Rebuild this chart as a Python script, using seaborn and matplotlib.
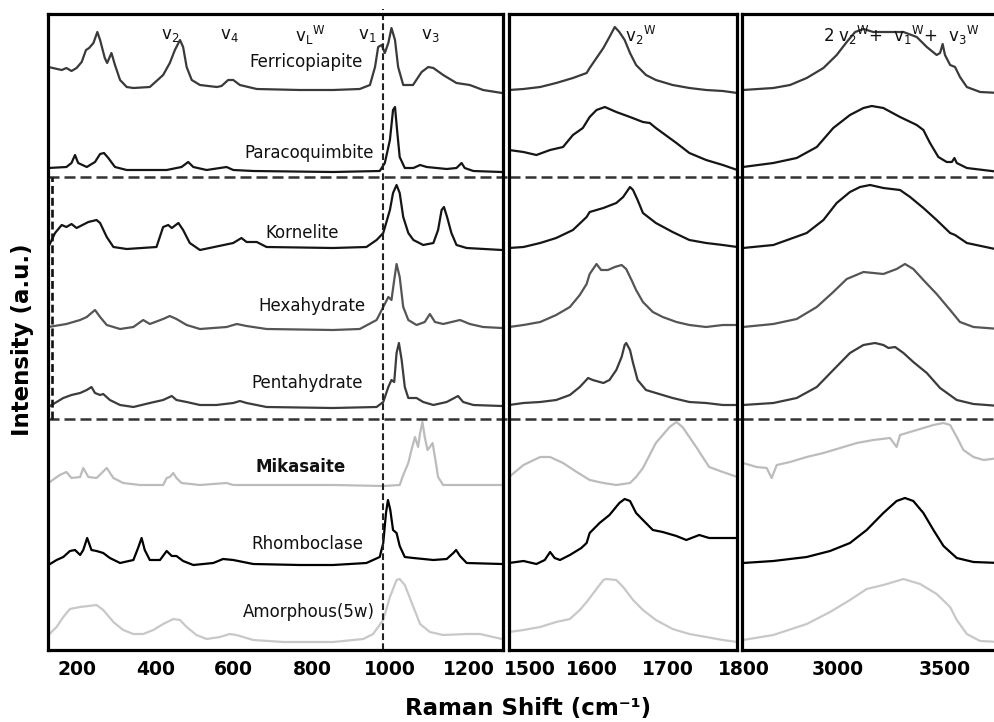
import matplotlib
matplotlib.use("Agg")
import matplotlib.pyplot as plt
import matplotlib.transforms as mtransforms
import pandas as pd
import seaborn as sns

# spettri: (Raman shift cm-1, intensita' relativa alla linea di base)
# regione 150-1300 cm-1
ferri_low = [(145, 23), (179, 20), (191, 22), (204, 19), (217, 22), (230, 28), (241, 40), (249, 42), (260, 47), (270, 58), (277, 50), (289, 32), (295, 27), (306, 37), (315, 25), (328, 10), (345, 3), (362, 2), (404, 3), (438, 15), (455, 27), (468, 40), (481, 50), (489, 43), (498, 23), (511, 10), (532, 5), (575, 3), (587, 4), (604, 10), (617, 10), (634, 5), (677, 1), (787, 0), (872, 0), (940, 1), (966, 5), (979, 23), (987, 43), (996, 45), (1004, 37), (1013, 47), (1021, 62), (1030, 50), (1038, 23), (1051, 5), (1076, 5), (1098, 18), (1115, 23), (1128, 22), (1153, 15), (1187, 7), (1221, 5), (1255, 0), (1303, -3)]
para_low = [(145, 2), (191, 3), (204, 7), (213, 15), (221, 7), (243, 3), (264, 8), (277, 16), (287, 17), (298, 12), (315, 3), (345, 0), (447, 0), (485, 3), (502, 8), (515, 3), (549, 0), (600, 3), (617, 0), (668, -1), (872, -2), (991, -1), (1004, 7), (1017, 30), (1025, 60), (1030, 63), (1036, 37), (1042, 13), (1055, 2), (1077, 2), (1094, 5), (1111, 3), (1162, 1), (1187, 2), (1200, 7), (1208, 2), (1230, -1), (1303, -2)]
korn_low = [(145, 1), (162, 15), (179, 23), (191, 21), (204, 24), (217, 20), (247, 26), (268, 28), (277, 25), (294, 11), (311, 1), (345, -1), (421, 1), (438, 21), (451, 23), (460, 20), (477, 25), (489, 18), (506, 5), (532, -2), (617, 5), (638, 10), (651, 6), (677, 6), (702, 1), (872, 0), (957, 1), (983, 8), (1000, 15), (1017, 38), (1025, 55), (1034, 63), (1042, 55), (1051, 31), (1064, 15), (1077, 8), (1102, 3), (1128, 5), (1140, 18), (1149, 38), (1155, 41), (1163, 31), (1174, 15), (1187, 3), (1213, 0), (1303, -2)]
hexa_low = [(145, 0), (191, 3), (226, 7), (243, 10), (264, 17), (277, 10), (294, 2), (328, -2), (362, 0), (387, 7), (404, 3), (438, 8), (455, 11), (472, 8), (498, 2), (532, -2), (600, 0), (626, 3), (651, 1), (702, -2), (872, -3), (940, -2), (983, 7), (1000, 20), (1013, 30), (1021, 27), (1028, 47), (1034, 63), (1042, 50), (1051, 20), (1064, 7), (1085, 2), (1106, 5), (1119, 13), (1132, 5), (1153, 3), (1196, 7), (1221, 3), (1255, 0), (1303, -1)]
penta_low = [(145, -2), (166, 3), (183, 7), (204, 10), (226, 12), (243, 15), (255, 18), (264, 12), (277, 10), (285, 11), (302, 5), (328, 0), (362, -2), (404, 2), (438, 5), (460, 9), (472, 5), (498, 3), (532, 0), (574, 0), (617, 2), (634, 4), (651, 2), (702, -2), (872, -3), (983, -2), (1000, 3), (1013, 18), (1021, 25), (1028, 23), (1034, 52), (1040, 62), (1047, 45), (1055, 18), (1064, 7), (1085, 7), (1102, 3), (1128, 0), (1162, 3), (1191, 9), (1204, 3), (1230, 0), (1303, -1)]
mika_low = [(145, 2), (174, 10), (191, 13), (204, 7), (226, 8), (234, 17), (247, 8), (268, 7), (294, 17), (311, 7), (336, 2), (379, 0), (438, 0), (447, 7), (455, 8), (464, 12), (472, 7), (485, 2), (532, 0), (600, 2), (617, 0), (702, 0), (872, 0), (1000, -1), (1042, 0), (1051, 10), (1064, 22), (1072, 35), (1081, 48), (1089, 38), (1094, 52), (1100, 63), (1106, 48), (1113, 35), (1119, 38), (1126, 42), (1132, 28), (1140, 8), (1153, 0), (1303, 0)]
rhombo_low = [(145, -2), (166, 3), (183, 6), (200, 12), (213, 13), (226, 8), (234, 13), (244, 25), (255, 13), (268, 12), (285, 10), (302, 5), (328, 0), (362, 3), (374, 15), (383, 25), (391, 13), (404, 3), (430, 3), (447, 12), (460, 7), (472, 7), (489, 2), (515, -2), (566, 0), (591, 4), (617, 3), (668, -1), (787, -2), (872, -2), (957, 0), (991, 6), (1000, 20), (1007, 50), (1012, 63), (1018, 53), (1025, 33), (1034, 30), (1042, 17), (1055, 6), (1077, 5), (1128, 3), (1162, 4), (1179, 10), (1186, 13), (1196, 7), (1213, 0), (1303, -1)]
amorph_low = [(145, 7), (166, 15), (183, 25), (200, 33), (226, 35), (268, 37), (285, 32), (311, 20), (336, 12), (362, 8), (387, 8), (413, 12), (438, 18), (464, 23), (481, 22), (498, 15), (523, 7), (549, 3), (583, 5), (608, 8), (625, 7), (668, 2), (745, 0), (872, 0), (949, 3), (974, 8), (1000, 22), (1017, 45), (1034, 62), (1042, 63), (1055, 57), (1077, 35), (1094, 18), (1119, 10), (1153, 7), (1213, 8), (1247, 8), (1303, 3)]

# regione 1500-1800 cm-1
ferri_mid = [(1500, 0), (1519, 1), (1541, 3), (1562, 7), (1584, 12), (1602, 17), (1606, 22), (1615, 32), (1624, 42), (1632, 53), (1639, 63), (1645, 58), (1652, 50), (1659, 37), (1667, 25), (1680, 15), (1693, 10), (1715, 5), (1737, 2), (1759, 0), (1781, -1), (1800, -3)]
para_mid = [(1500, 20), (1519, 18), (1536, 15), (1554, 20), (1571, 23), (1584, 35), (1597, 42), (1606, 53), (1615, 60), (1626, 63), (1641, 58), (1659, 53), (1676, 48), (1685, 47), (1693, 42), (1702, 37), (1720, 27), (1737, 17), (1759, 10), (1781, 5), (1800, 0)]
korn_mid = [(1500, 0), (1519, 1), (1541, 5), (1562, 10), (1584, 18), (1602, 31), (1606, 36), (1624, 40), (1641, 45), (1650, 51), (1659, 61), (1663, 58), (1669, 48), (1676, 35), (1693, 25), (1715, 16), (1737, 8), (1759, 5), (1781, 3), (1800, 1)]
hexa_mid = [(1500, 0), (1519, 2), (1541, 5), (1562, 12), (1580, 20), (1593, 32), (1602, 43), (1606, 53), (1615, 63), (1621, 57), (1630, 57), (1639, 60), (1648, 62), (1654, 58), (1661, 47), (1667, 37), (1676, 25), (1689, 15), (1702, 10), (1720, 5), (1737, 2), (1759, 0), (1781, 2), (1800, 2)]
penta_mid = [(1500, 0), (1519, 2), (1541, 3), (1562, 5), (1580, 10), (1593, 18), (1604, 27), (1610, 25), (1624, 22), (1632, 25), (1641, 35), (1648, 48), (1652, 60), (1654, 62), (1659, 55), (1663, 42), (1669, 25), (1680, 15), (1693, 12), (1715, 7), (1737, 3), (1759, 2), (1781, 0), (1800, 0)]
mika_mid = [(1500, 8), (1519, 20), (1541, 28), (1554, 28), (1571, 22), (1589, 13), (1606, 5), (1624, 2), (1641, 0), (1659, 2), (1667, 8), (1676, 17), (1693, 42), (1711, 58), (1720, 63), (1728, 58), (1746, 38), (1763, 18), (1781, 13), (1800, 8)]
rhombo_mid = [(1500, 0), (1519, 2), (1536, -1), (1547, 3), (1554, 11), (1560, 5), (1567, 3), (1580, 8), (1595, 15), (1602, 20), (1606, 30), (1619, 40), (1632, 48), (1645, 60), (1652, 64), (1659, 62), (1667, 50), (1676, 43), (1689, 33), (1702, 31), (1720, 27), (1733, 23), (1750, 28), (1763, 25), (1781, 25), (1800, 25)]
amorph_mid = [(1500, 10), (1519, 12), (1541, 15), (1562, 20), (1580, 23), (1593, 32), (1602, 40), (1610, 48), (1624, 62), (1628, 63), (1641, 62), (1650, 55), (1663, 42), (1676, 32), (1693, 22), (1715, 13), (1737, 8), (1759, 5), (1781, 2), (1800, 0)]

# regione 2600-3800 cm-1
ferri_high = [(2590, 0), (2732, 2), (2810, 5), (2888, 12), (2966, 22), (3028, 35), (3075, 48), (3114, 58), (3153, 61), (3199, 58), (3277, 58), (3340, 58), (3402, 53), (3449, 43), (3495, 35), (3511, 37), (3523, 46), (3534, 35), (3558, 25), (3581, 23), (3604, 13), (3636, 3), (3698, -2), (3790, -3)]
para_high = [(2590, 3), (2732, 7), (2841, 12), (2935, 23), (3012, 42), (3090, 55), (3153, 62), (3192, 64), (3246, 62), (3324, 53), (3402, 45), (3433, 40), (3464, 27), (3503, 13), (3542, 8), (3566, 8), (3578, 12), (3589, 7), (3636, 2), (3790, -2)]
korn_high = [(2590, 0), (2732, 3), (2888, 15), (2966, 28), (3028, 45), (3090, 56), (3137, 61), (3184, 63), (3246, 60), (3324, 58), (3371, 51), (3433, 40), (3495, 28), (3558, 15), (3581, 13), (3636, 5), (3790, -2)]
hexa_high = [(2590, 0), (2732, 3), (2841, 8), (2935, 20), (3012, 35), (3075, 48), (3153, 55), (3246, 53), (3308, 58), (3347, 63), (3386, 58), (3433, 47), (3495, 33), (3558, 17), (3604, 5), (3667, 0), (3790, -2)]
penta_high = [(2590, 0), (2732, 2), (2841, 7), (2935, 18), (3012, 35), (3090, 52), (3153, 60), (3207, 62), (3246, 60), (3270, 57), (3301, 58), (3340, 52), (3386, 43), (3449, 32), (3511, 17), (3589, 5), (3667, 1), (3790, -1)]
mika_high = [(2590, 22), (2654, 18), (2701, 17), (2724, 7), (2748, 20), (2810, 23), (2888, 28), (2966, 32), (3044, 37), (3122, 42), (3199, 45), (3277, 47), (3308, 38), (3324, 50), (3402, 55), (3480, 60), (3527, 62), (3558, 60), (3589, 48), (3620, 35), (3667, 28), (3714, 25), (3790, 27)]
rhombo_high = [(2590, 0), (2732, 2), (2888, 6), (2997, 12), (3090, 20), (3168, 33), (3246, 50), (3308, 62), (3347, 65), (3386, 62), (3433, 50), (3480, 33), (3527, 17), (3589, 5), (3667, 1), (3790, 0)]
amorph_high = [(2590, 2), (2732, 7), (2888, 18), (2997, 30), (3090, 42), (3168, 53), (3246, 57), (3340, 63), (3418, 58), (3495, 48), (3558, 35), (3589, 22), (3636, 8), (3698, 1), (3790, 0)]

campioni = ["Ferricopiapite", "Paracoquimbite", "Kornelite", "Hexahydrate",
            "Pentahydrate", "Mikasaite", "Rhomboclase", "Amorphous(5w)"]
offset = [560, 480, 402, 323, 245, 165, 87, 8]
colori = ["#3a3a3a", "#151515", "#151515", "#555555", "#3c3c3c", "#bcbcbc", "#000000", "#c8c8c8"]

spettri_low = [ferri_low, para_low, korn_low, hexa_low, penta_low, mika_low, rhombo_low, amorph_low]
spettri_mid = [ferri_mid, para_mid, korn_mid, hexa_mid, penta_mid, mika_mid, rhombo_mid, amorph_mid]
spettri_high = [ferri_high, para_high, korn_high, hexa_high, penta_high, mika_high, rhombo_high, amorph_high]

tick_low = [200, 400, 600, 800, 1000, 1200]
tick_mid = [1500, 1600, 1700, 1800]
tick_high = [3000, 3500]

# posizioni delle etichette dei campioni (cm-1, altezza)
pos_etichette = [(802, 588), (810, 497), (792, 417), (818, 344), (805, 267), (790, 183), (805, 106), (810, 38)]


def crea_df(spettri):
    righe = []
    for nome, off, punti in zip(campioni, offset, spettri):
        for x, y in punti:
            righe.append((nome, x, y + off))
    return pd.DataFrame(righe, columns=["campione", "shift", "y"])


sns.set_style("white")
plt.rcParams["font.family"] = ["DejaVu Sans"]
plt.rcParams["text.color"] = "black"

W, H = 995, 722
fig = plt.figure(figsize=(W / 100, H / 100), dpi=100)


def riquadro(sx, dx):
    return [sx / W, (H - 650) / H, (dx - sx) / W, 636 / H]


ax1 = fig.add_axes(riquadro(48, 502.7))
ax2 = fig.add_axes(riquadro(509, 737.3))
ax3 = fig.add_axes(riquadro(742.3, 1000))
palette = dict(zip(campioni, colori))
sposta = mtransforms.ScaledTranslation(7 / 100, 0, fig.dpi_scale_trans)

for ax, spettri, lim, ticks in [(ax1, spettri_low, (144, 1305), tick_low),
                                (ax2, spettri_mid, (1500, 1800), tick_mid),
                                (ax3, spettri_high, (2587, 3791), tick_high)]:
    df = crea_df(spettri)
    sns.lineplot(data=df, x="shift", y="y", hue="campione", palette=palette,
                 estimator=None, sort=False, legend=False, lw=1.6, ax=ax)
    ax.set_xlim(*lim)
    ax.set_ylim(0, 636)
    ax.set_yticks([])
    ax.set_xlabel("")
    ax.set_ylabel("")
    ax.set_xticks(ticks)
    ax.set_xticklabels([str(t) for t in ticks], fontweight="bold", fontsize=13.5)
    ax.tick_params(axis="x", direction="in", length=7, width=2, pad=7,
                   color="black", labelcolor="black")
    for lbl in ax.get_xticklabels():
        lbl.set_transform(lbl.get_transform() + sposta)
    for s in ax.spines.values():
        s.set_linewidth(2.3)
        s.set_color("black")

# l'etichetta 1500 sta un po' piu' a destra, accanto al bordo
primo = ax2.get_xticklabels()[0]
primo.set_transform(primo.get_transform() + mtransforms.ScaledTranslation(14 / 100, 0, fig.dpi_scale_trans))

# linee tratteggiate di separazione dei gruppi
for ax, extra in [(ax1, 6.3 / 454.7), (ax2, 5 / 228.3), (ax3, 0)]:
    for yy in [473, 231]:
        ax.axhline(yy, xmin=0, xmax=1 + extra, color="#333333", lw=1.8,
                   ls=(0, (4.4, 2)), clip_on=False, zorder=1)
ax1.axvline(1000, ymin=0, ymax=1.008, color="#222222", lw=1.5, ls=(0, (3.2, 1.6)), clip_on=False)
ax1.axvline(154, ymin=231 / 636, ymax=473 / 636, color="#111111", lw=1.9, ls=(0, (3, 1.5)))

for nome, (x, y) in zip(campioni, pos_etichette):
    ax1.text(x, y, nome, ha="center", va="center", fontsize=12,
             fontweight="bold" if nome == "Mikasaite" else "normal", color="#111111")

# assegnazioni delle bande
bande = [(455, r"v$_\mathrm{2}$"), (608, r"v$_\mathrm{4}$"), (813, r"v$_\mathrm{L}$$^\mathrm{W}$"),
         (958, r"v$_\mathrm{1}$"), (1119, r"v$_\mathrm{3}$")]
for x, testo in bande:
    ax1.text(x, 615, testo, ha="center", va="center", fontsize=12, color="#111111")
ax2.text(1673, 615, r"v$_\mathrm{2}$$^\mathrm{W}$", ha="center", va="center", fontsize=12, color="#111111")
ax3.text(2965, 615, r"2 v$_\mathrm{2}$$^\mathrm{W}$+  v$_\mathrm{1}$$^\mathrm{W}$+  v$_\mathrm{3}$$^\mathrm{W}$",
         ha="left", va="center", fontsize=12, color="#111111")

fig.text(23 / W, 1 - 340 / H, "Intensity (a.u.)", rotation=90, ha="center", va="center",
         fontsize=16.5, fontweight="bold", color="black")
fig.text(528 / W, 1 - 709 / H, "Raman Shift (cm⁻¹)", ha="center", va="center",
         fontsize=16.5, fontweight="bold", color="black")

fig.savefig("out.png", dpi=100)
